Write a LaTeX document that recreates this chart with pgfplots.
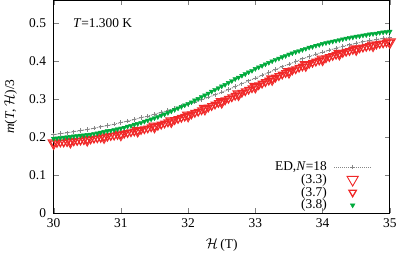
\documentclass[border=0pt]{standalone}
\usepackage{fontspec}
\setmainfont{Liberation Serif}
\usepackage{pgfplots}
\pgfplotsset{compat=1.18}
\definecolor{myred}{RGB}{240,40,40}
\definecolor{mygreen}{RGB}{0,170,60}
\definecolor{mygray}{RGB}{135,135,135}
\pgfplotsset{wideleg/.style={legend image code/.code={\draw[mark repeat=2,mark phase=2,##1] plot coordinates {(0cm,0cm) (0.65cm,0cm) (1.3cm,0cm)};}}}
\begin{document}
\fontsize{13.5}{15}\selectfont
\begin{tikzpicture}
\begin{axis}[
  scale only axis, width=338.5pt, height=214pt,
  xmin=30, xmax=35, ymin=0, ymax=0.56,
  xtick={30,31,32,33,34,35},
  ytick={0,0.1,0.2,0.3,0.4,0.5},
  tick align=inside, major tick length=5pt,
  /pgf/number format/assume math mode=true,
  yticklabel style={/pgf/number format/fixed, xshift=-3pt},
  xticklabel style={yshift=-1pt},
  xlabel={$\mathcal{H}$\,(T)},
  ylabel={\textit{m}(\textit{T},\,$\mathcal{H}$)/3},
  xlabel style={yshift=-2pt},
  ylabel style={yshift=3pt},
  every axis/.append style={font=\fontsize{13.5}{15}\selectfont},
  legend style={draw=none, fill=none, at={(0.955,-0.01)}, anchor=south east, row sep=-2.5pt,
    font=\fontsize{13.5}{15}\selectfont,
    /tikz/every odd column/.append style={column sep=5pt}},
  legend cell align=right, legend plot pos=right,
  axis line style={line width=0.8pt},
]
\addplot[mygray, densely dotted, line width=1pt, mark=+, mark size=2.2pt, mark options={solid, line width=0.9pt}, wideleg] coordinates {
(30.0,0.206)(30.1,0.209)(30.2,0.211)(30.3,0.214)(30.4,0.217)(30.5,0.220)(30.6,0.223)(30.7,0.227)(30.8,0.230)(30.9,0.234)
(31.0,0.238)(31.1,0.242)(31.2,0.246)(31.3,0.251)(31.4,0.255)(31.5,0.260)(31.6,0.265)(31.7,0.270)(31.8,0.275)(31.9,0.280)
(32.0,0.286)(32.1,0.292)(32.2,0.298)(32.3,0.305)(32.4,0.311)(32.5,0.318)(32.6,0.325)(32.7,0.333)(32.8,0.340)(32.9,0.348)
(33.0,0.355)(33.1,0.363)(33.2,0.370)(33.3,0.378)(33.4,0.385)(33.5,0.392)(33.6,0.399)(33.7,0.406)(33.8,0.412)(33.9,0.418)
(34.0,0.424)(34.1,0.429)(34.2,0.434)(34.3,0.439)(34.4,0.443)(34.5,0.447)(34.6,0.451)(34.7,0.454)(34.8,0.457)(34.9,0.460)(35.0,0.462)};
\addlegendentry{ED,\textit{N}=18}
\addplot[only marks, myred, mark=triangle, mark options={rotate=180, line width=0.9pt}, mark size=6.5pt, wideleg] coordinates {
(30,0.184)(30.25,0.188)(30.5,0.193)(30.75,0.200)(31,0.207)(31.25,0.217)(31.5,0.228)(31.75,0.242)(32,0.257)(32.25,0.275)
(32.5,0.293)(32.75,0.313)(33,0.333)(33.25,0.353)(33.5,0.372)(33.75,0.390)(34,0.405)(34.25,0.420)(34.5,0.432)(34.75,0.442)(35,0.450)};
\addlegendentry{(3.3)}
\addplot[only marks, myred, mark=triangle, mark options={rotate=180, line width=1.3pt}, mark size=4.3pt, wideleg] coordinates {
(30.0,0.184)(30.05,0.185)(30.1,0.186)(30.15,0.186)(30.2,0.187)(30.25,0.188)(30.3,0.189)(30.35,0.190)(30.4,0.191)(30.45,0.192)
(30.5,0.193)(30.55,0.194)(30.6,0.196)(30.65,0.197)(30.7,0.198)(30.75,0.200)(30.8,0.201)(30.85,0.203)(30.9,0.204)(30.95,0.206)
(31.0,0.207)(31.05,0.209)(31.1,0.211)(31.15,0.213)(31.2,0.215)(31.25,0.217)(31.3,0.219)(31.35,0.221)(31.4,0.223)(31.45,0.226)
(31.5,0.228)(31.55,0.230)(31.6,0.233)(31.65,0.236)(31.7,0.239)(31.75,0.242)(31.8,0.245)(31.85,0.248)(31.9,0.251)(31.95,0.254)
(32.0,0.257)(32.05,0.260)(32.1,0.264)(32.15,0.267)(32.2,0.271)(32.25,0.275)(32.3,0.278)(32.35,0.282)(32.4,0.286)(32.45,0.290)
(32.5,0.293)(32.55,0.297)(32.6,0.301)(32.65,0.305)(32.7,0.309)(32.75,0.313)(32.8,0.317)(32.85,0.321)(32.9,0.325)(32.95,0.329)
(33.0,0.333)(33.05,0.337)(33.1,0.341)(33.15,0.345)(33.2,0.349)(33.25,0.353)(33.3,0.357)(33.35,0.361)(33.4,0.365)(33.45,0.369)
(33.5,0.372)(33.55,0.376)(33.6,0.379)(33.65,0.383)(33.7,0.386)(33.75,0.390)(33.8,0.393)(33.85,0.396)(33.9,0.399)(33.95,0.402)
(34.0,0.405)(34.05,0.408)(34.1,0.411)(34.15,0.414)(34.2,0.417)(34.25,0.420)(34.3,0.422)(34.35,0.425)(34.4,0.427)(34.45,0.430)
(34.5,0.432)(34.55,0.434)(34.6,0.436)(34.65,0.438)(34.7,0.440)(34.75,0.442)(34.8,0.444)(34.85,0.446)(34.9,0.447)(34.95,0.449)(35.0,0.450)};
\addlegendentry{(3.7)}
\addplot[only marks, mygreen, mark=triangle*, mark options={rotate=180}, mark size=2.7pt, wideleg] coordinates {
(30.0,0.196)(30.05,0.197)(30.1,0.198)(30.15,0.199)(30.2,0.200)(30.25,0.201)(30.3,0.202)(30.35,0.203)(30.4,0.204)(30.45,0.205)
(30.5,0.206)(30.55,0.207)(30.6,0.209)(30.65,0.210)(30.7,0.212)(30.75,0.214)(30.8,0.216)(30.85,0.217)(30.9,0.219)(30.95,0.221)
(31.0,0.223)(31.05,0.225)(31.1,0.228)(31.15,0.230)(31.2,0.233)(31.25,0.235)(31.3,0.238)(31.35,0.241)(31.4,0.244)(31.45,0.247)
(31.5,0.250)(31.55,0.253)(31.6,0.257)(31.65,0.260)(31.7,0.264)(31.75,0.268)(31.8,0.272)(31.85,0.276)(31.9,0.280)(31.95,0.284)
(32.0,0.288)(32.05,0.292)(32.1,0.297)(32.15,0.301)(32.2,0.306)(32.25,0.310)(32.3,0.315)(32.35,0.320)(32.4,0.325)(32.45,0.329)
(32.5,0.334)(32.55,0.338)(32.6,0.343)(32.65,0.348)(32.7,0.353)(32.75,0.357)(32.8,0.362)(32.85,0.366)(32.9,0.371)(32.95,0.375)
(33.0,0.380)(33.05,0.384)(33.1,0.388)(33.15,0.392)(33.2,0.396)(33.25,0.400)(33.3,0.404)(33.35,0.407)(33.4,0.411)(33.45,0.414)
(33.5,0.418)(33.55,0.421)(33.6,0.424)(33.65,0.427)(33.7,0.430)(33.75,0.433)(33.8,0.436)(33.85,0.438)(33.9,0.441)(33.95,0.443)
(34.0,0.446)(34.05,0.448)(34.1,0.450)(34.15,0.452)(34.2,0.454)(34.25,0.456)(34.3,0.458)(34.35,0.460)(34.4,0.462)(34.45,0.463)
(34.5,0.465)(34.55,0.466)(34.6,0.468)(34.65,0.469)(34.7,0.471)(34.75,0.472)(34.8,0.473)(34.85,0.475)(34.9,0.476)(34.95,0.477)(35.0,0.478)};
\addlegendentry{(3.8)}
\node[anchor=west] at (axis cs:30.22,0.5) {\textit{T}=1.300 K};
\end{axis}
\end{tikzpicture}
\end{document}
